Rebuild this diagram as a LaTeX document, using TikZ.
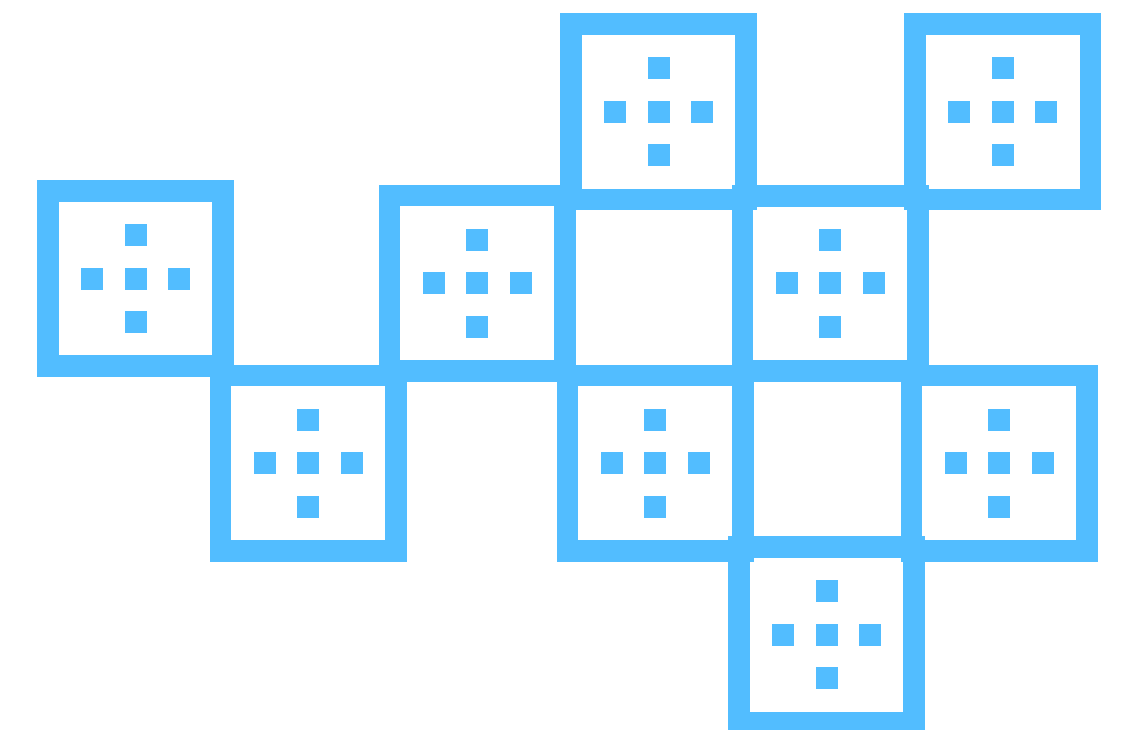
\documentclass[tikz,border=0pt]{standalone}
\usetikzlibrary{calc}
\definecolor{dieblue}{RGB}{82,189,255}
\begin{document}
\begin{tikzpicture}[x=1pt,y=1pt,
  diebox/.style={draw=dieblue, line width=21.7pt, minimum size=175.3pt, inner sep=0pt, outer sep=0pt},
  pip/.style={fill=dieblue, minimum size=22pt, inner sep=0pt, outer sep=0pt}]
\useasboundingbox (0,0) rectangle (1127,730);
\foreach \n/\x/\y in {A/658.5/112, B/1002.7/112, C/135.5/278.7, D/477/283.2, F/830/283.5, G/308/463.3, H/655.2/463.3, J/999.2/463.3, K/826.5/635} {
  \node[diebox] (\n) at (\x,730-\y) {};
  \foreach \dx/\dy/\k in {0/0/c, 0/43.5/t, 0/-43.5/b, 43.5/0/r, -43.5/0/l}
    \node[pip] (\n\k) at ($(\n)+(\dx,\dy)$) {};
}
\end{tikzpicture}
\end{document}
